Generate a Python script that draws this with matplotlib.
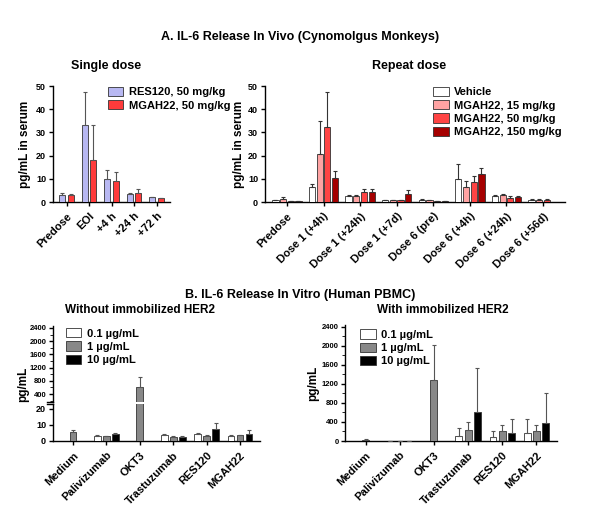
import numpy as np
import matplotlib

matplotlib.use("Agg")
import matplotlib.pyplot as plt
from matplotlib.ticker import MultipleLocator

# --- data (mean, upper error bar end) ---
SINGLE_CATS = ["Predose", "EOI", "+4 h", "+24 h", "+72 h"]
SINGLE_SERIES = ["RES120, 50 mg/kg", "MGAH22, 50 mg/kg"]
SINGLE_MEAN = [[3.2, 33.3, 9.8, 3.4, 2.0],
               [3.0, 18.0, 9.2, 3.7, 1.8]]
SINGLE_TOP = [[4.0, 47.3, 13.6, 3.8, 2.2],
              [3.5, 33.3, 13.0, 5.8, 1.9]]

REPEAT_CATS = ["Predose", "Dose 1 (+4h)", "Dose 1 (+24h)", "Dose 1 (+7d)",
               "Dose 6 (pre)", "Dose 6 (+4h)", "Dose 6 (+24h)", "Dose 6 (+56d)"]
REPEAT_SERIES = ["Vehicle", "MGAH22, 15 mg/kg", "MGAH22, 50 mg/kg", "MGAH22, 150 mg/kg"]
REPEAT_MEAN = [[0.8, 6.6, 2.6, 0.7, 1.0, 9.9, 2.5, 1.0],
               [1.5, 20.7, 2.6, 0.8, 0.7, 6.6, 2.9, 1.0],
               [0.3, 32.5, 4.5, 0.9, 0.4, 8.6, 1.9, 0.8],
               [0.3, 10.5, 4.3, 3.3, 0.4, 12.0, 2.0, np.nan]]
REPEAT_TOP = [[0.9, 7.6, 3.0, 0.9, 1.2, 16.2, 2.9, 1.1],
              [2.2, 34.9, 3.1, 1.0, 0.8, 9.0, 3.4, 1.1],
              [0.4, 47.5, 5.8, 1.0, 0.5, 11.0, 2.8, 1.1],
              [0.4, 13.5, 5.4, 5.0, 0.5, 14.8, 2.6, np.nan]]

VITRO_CATS = ["Medium", "Palivizumab", "OKT3", "Trastuzumab", "RES120", "MGAH22"]
VITRO_SERIES = ["0.1 µg/mL", "1 µg/mL", "10 µg/mL"]
# medium and OKT3 only have the middle (1 µg/mL) bar
NO_HER2_MEAN = [[np.nan, 3.3, np.nan, 3.9, 4.5, 3.3],
                [5.8, 3.2, 600, 2.6, 3.4, 3.5],
                [np.nan, 4.4, np.nan, 2.7, 7.3, 4.5]]
NO_HER2_TOP = [[np.nan, 3.6, np.nan, 4.6, 4.8, 3.6],
               [7.0, 3.4, 920, 2.8, 3.6, 4.0],
               [np.nan, 4.8, np.nan, 2.9, 11.5, 7.0]]
HER2_MEAN = [[np.nan, 3, np.nan, 100, 80, 165],
             [30, 5, 1280, 240, 200, 220],
             [np.nan, 3, np.nan, 600, 175, 370]]
HER2_TOP = [[np.nan, 3, np.nan, 270, 210, 460],
            [45, 6, 2020, 390, 330, 330],
            [np.nan, 3, np.nan, 1540, 460, 1000]]

SINGLE_COLORS = ["#B8B8F2", "#FF3B3B"]
REPEAT_COLORS = ["white", "#FFA3A3", "#FF4444", "#A50000"]
VITRO_COLORS = ["white", "#888888", "black"]

plt.rcParams.update({
    "font.family": ["Liberation Sans", "DejaVu Sans"],
    "font.weight": "bold",
    "axes.linewidth": 1.0,
    "xtick.major.width": 1.0,
    "ytick.major.width": 1.0,
    "xtick.major.size": 3,
    "ytick.major.size": 3,
})

W, H = 600, 515
fig = plt.figure(figsize=(W / 100, H / 100), dpi=100)


def rect(x0, y0, x1, y1):
    return [x0 / W, 1 - y1 / H, (x1 - x0) / W, (y1 - y0) / H]


def grouped(ax, cats, means, tops, colors, width, pitch, ecolor="#555555"):
    n = len(means)
    x = np.arange(len(cats))
    handles = []
    for k in range(n):
        m = np.array(means[k], dtype=float)
        t = np.array(tops[k], dtype=float)
        pos = x + (k - (n - 1) / 2) * pitch
        # centre single-bar groups
        single = np.array([sum(~np.isnan(np.array(means[j][i], dtype=float)) for j in range(n)) == 1
                           for i in range(len(cats))])
        pos = np.where(single, x, pos)
        err = np.vstack([np.zeros_like(m), np.clip(t - m, 0, None)])
        b = ax.bar(pos, m, width, color=colors[k], edgecolor="#333333", linewidth=0.6,
                   yerr=err, ecolor=ecolor, error_kw=dict(elinewidth=0.8, capsize=1.5, capthick=0.8),
                   zorder=3)
        handles.append(b)
    ax.set_xticks(x)
    ax.set_xlim(-0.6, len(cats) - 0.4)
    return handles


def style(ax, labels, fs=8):
    for s in ("top", "right"):
        ax.spines[s].set_visible(False)
    ax.set_xticklabels(labels, rotation=45, ha="right", rotation_mode="anchor", fontsize=fs,
                       fontweight="bold")
    ax.tick_params(axis="y", labelsize=6.5, pad=2)


LEG = dict(frameon=False, fontsize=8, handlelength=1.4, handleheight=0.9, handletextpad=0.5,
           labelspacing=0.25, borderaxespad=0, loc="upper left")

# ---------- A: in vivo ----------
fig.text(0.5, 1 - 37 / H, "A. IL-6 Release In Vivo (Cynomolgus Monkeys)", ha="center", va="center",
         fontsize=9, fontweight="bold")

ax1 = fig.add_axes(rect(53, 86, 170, 202))
h = grouped(ax1, SINGLE_CATS, SINGLE_MEAN, SINGLE_TOP, SINGLE_COLORS, 0.27, 0.36)
ax1.set_ylim(0, 50)
ax1.yaxis.set_major_locator(MultipleLocator(10))
style(ax1, SINGLE_CATS)
ax1.set_ylabel("pg/mL in serum", fontsize=8.5, fontweight="bold")
ax1.yaxis.set_label_coords(-0.19, 0.5)
ax1.set_title("Single dose", fontsize=9, fontweight="bold", pad=12, x=0.45)
ax1.legend(h, SINGLE_SERIES, bbox_to_anchor=(0.43, 1.03), **LEG)

ax2 = fig.add_axes(rect(265, 86, 565, 202))
h = grouped(ax2, REPEAT_CATS, REPEAT_MEAN, REPEAT_TOP, REPEAT_COLORS, 0.17, 0.21, ecolor="#333333")
ax2.set_ylim(0, 50)
ax2.yaxis.set_major_locator(MultipleLocator(10))
style(ax2, REPEAT_CATS)
ax2.set_ylabel("pg/mL in serum", fontsize=8.5, fontweight="bold")
ax2.yaxis.set_label_coords(-0.066, 0.5)
ax2.set_title("Repeat dose", fontsize=9, fontweight="bold", pad=12, x=0.48)
ax2.legend(h, REPEAT_SERIES, bbox_to_anchor=(0.545, 1.03), **LEG)

# ---------- B: in vitro ----------
fig.text(0.5, 1 - 295 / H, "B. IL-6 Release In Vitro (Human PBMC)", ha="center", va="center",
         fontsize=9, fontweight="bold")
fig.text(140 / W, 1 - 310 / H, "Without immobilized HER2", ha="center", va="center",
         fontsize=8.5, fontweight="bold")
fig.text(443 / W, 1 - 310 / H, "With immobilized HER2", ha="center", va="center",
         fontsize=8.5, fontweight="bold")

# broken y axis: upper part (hundreds) and lower part (0-20)
axu = fig.add_axes(rect(53, 326, 260, 402))
axl = fig.add_axes(rect(53, 404, 260, 441))
for a in (axu, axl):
    h = grouped(a, VITRO_CATS, NO_HER2_MEAN, NO_HER2_TOP, VITRO_COLORS, 0.2, 0.27)
axu.set_ylim(160, 2460)
axu.yaxis.set_major_locator(MultipleLocator(400))
axu.yaxis.set_minor_locator(MultipleLocator(200))
axl.set_ylim(0, 23)
axl.yaxis.set_major_locator(MultipleLocator(10))
for s in ("top", "right", "bottom"):
    axu.spines[s].set_visible(False)
axu.tick_params(axis="x", bottom=False, labelbottom=False)
axu.tick_params(axis="y", labelsize=5.5, pad=1.5)
axu.tick_params(axis="y", which="minor", length=2)
style(axl, VITRO_CATS)
axl.tick_params(axis="y", labelsize=6.5)
# break marks on the y axis
axu.plot([-0.03, 0], [0, 0], transform=axu.transAxes, color="black", lw=1.0, clip_on=False)
axl.plot([-0.03, 0], [1, 1], transform=axl.transAxes, color="black", lw=1.0, clip_on=False)
fig.text(23 / W, 1 - 384 / H, "pg/mL", rotation=90, ha="center", va="center",
         fontsize=8.5, fontweight="bold")
axu.legend(h, VITRO_SERIES, bbox_to_anchor=(0.04, 1.03), **LEG)

ax4 = fig.add_axes(rect(345, 325, 557, 441))
h = grouped(ax4, VITRO_CATS, HER2_MEAN, HER2_TOP, VITRO_COLORS, 0.2, 0.27)
ax4.set_ylim(0, 2440)
ax4.yaxis.set_major_locator(MultipleLocator(400))
ax4.yaxis.set_minor_locator(MultipleLocator(200))
style(ax4, VITRO_CATS)
ax4.tick_params(axis="y", labelsize=5.5, pad=1.5)
ax4.tick_params(axis="y", which="minor", length=2)
ax4.set_ylabel("pg/mL", fontsize=8.5, fontweight="bold", labelpad=2)
ax4.legend(h, VITRO_SERIES, bbox_to_anchor=(0.05, 1.0), **LEG)

fig.savefig("out.png", dpi=100, facecolor="white")
